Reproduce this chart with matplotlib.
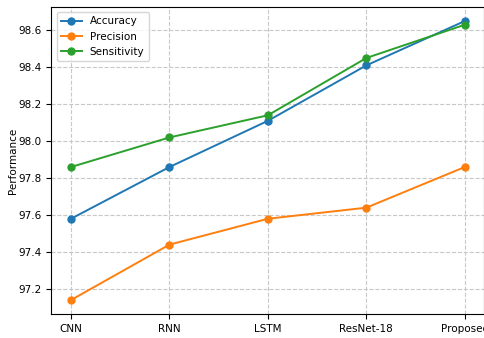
import matplotlib.pyplot as plt

# Data
models = ['CNN', 'RNN', 'LSTM', 'ResNet-18', 'Proposed']
accuracy = [97.58, 97.86, 98.11, 98.41, 98.65]
precision = [97.14, 97.44, 97.58, 97.64, 97.86]
sensitivity = [97.86, 98.02, 98.14, 98.45, 98.63]

plt.rcParams['font.size'] = 7.5

fig = plt.figure(figsize=(4.84, 3.38), dpi=100)
ax = fig.add_axes([0.106, 0.071, 0.895, 0.908])

ax.plot(models, accuracy, marker='o', markersize=5, linewidth=1.4, label='Accuracy')
ax.plot(models, precision, marker='o', markersize=5, linewidth=1.4, label='Precision')
ax.plot(models, sensitivity, marker='o', markersize=5, linewidth=1.4, label='Sensitivity')

ax.set_ylabel('Performance', labelpad=0)
ax.grid(True, linestyle='--', color='#c8c8c8', linewidth=0.8)
ax.legend(loc='upper left')

fig.savefig('out.png', dpi=100)
